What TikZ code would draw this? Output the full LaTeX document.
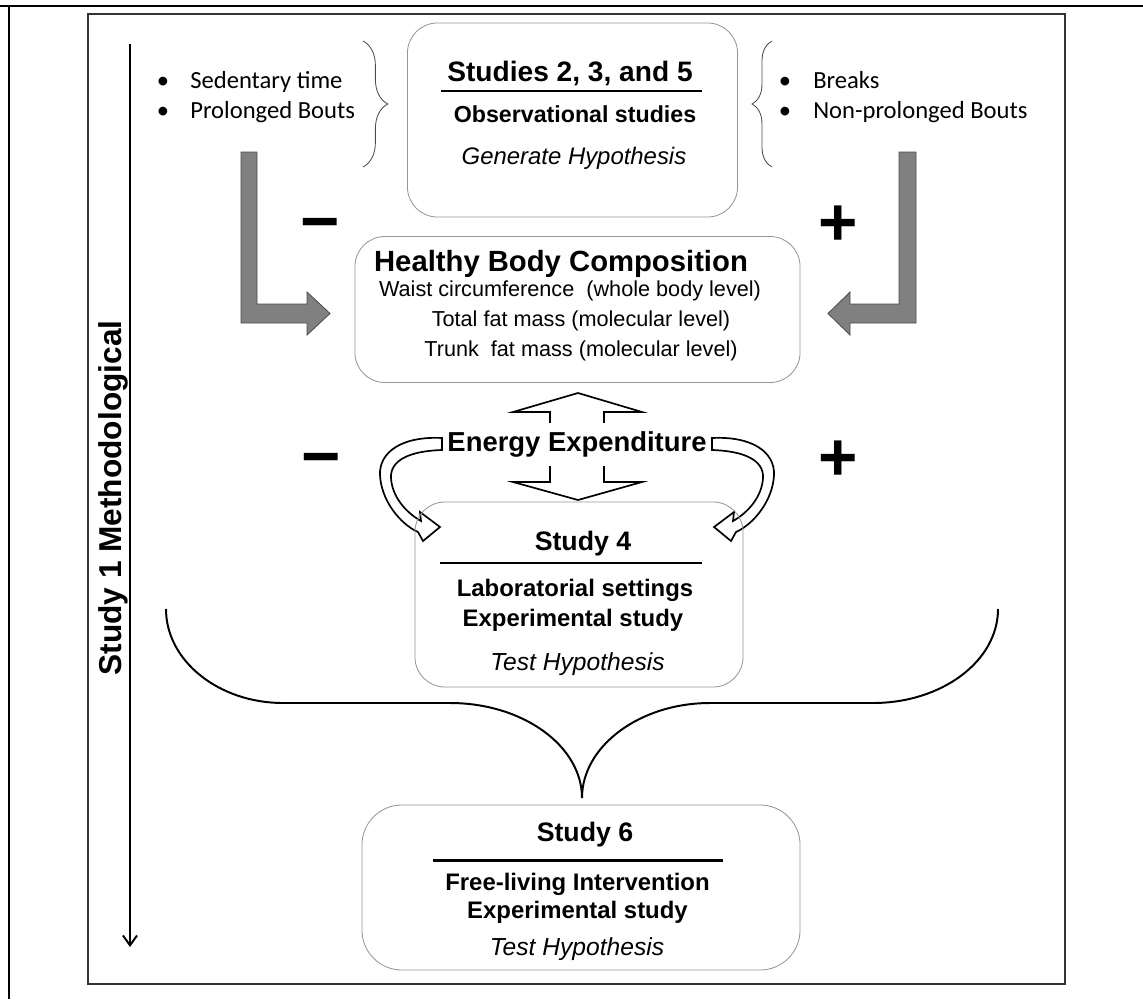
\documentclass[tikz,border=0pt]{standalone}
\usepackage{fontspec}
\setmainfont{Liberation Sans}
\newfontfamily\calibri{Carlito}
\usetikzlibrary{positioning, arrows.meta, decorations.pathreplacing, calc}
\definecolor{BoxGray}{RGB}{150,150,150}
\definecolor{ArrowGray}{RGB}{128,128,128}

\begin{document}
\begin{tikzpicture}[x=0.025cm, y=-0.025cm,
    box/.style={draw=BoxGray, rounded corners=0.75cm, line width=0.6pt, inner sep=0pt},
    txt/.style={anchor=base, inner sep=0pt},
    head/.style={txt, font=\bfseries\fontsize{19}{23}\selectfont},
    sub/.style={txt, font=\bfseries\fontsize{17}{20}\selectfont},
    hyp/.style={txt, font=\itshape\fontsize{17.5}{21}\selectfont},
    level/.style={txt, font=\fontsize{15.4}{18}\selectfont},
    dot/.style={txt, font=\calibri\fontsize{17.5}{21}\selectfont},
    item/.style={anchor=base west, inner sep=0pt, font=\calibri\fontsize{17.5}{21}\selectfont},
    sign/.style={txt, font=\bfseries\fontsize{48}{48}\selectfont},
    rulebar/.style={line width=2pt},
    grayarrow/.style={fill=ArrowGray, draw=black!70, line width=0.6pt},
    hollow/.style={fill=white, draw=black, line width=1.2pt}]

    \useasboundingbox (0,0) rectangle (1143,999);

    % frames
    \draw[line width=1.2pt] (0,6) -- (1143,6);
    \draw[line width=1.4pt] (9,6) -- (9,999);
    \draw[black!80, line width=0.9pt] (88,14) rectangle (1065,984);

    % Study 1 axis
    \coordinate (mtop) at (130,44);
    \coordinate (mbot) at (130,947);
    \draw[-{Straight Barb[length=7pt,width=10pt]}, line width=1.4pt] (mtop) -- (mbot);
    \node[rotate=90, inner sep=0pt, font=\bfseries\fontsize{22.5}{26}\selectfont] (meth) at (113,498) {Study 1 Methodological};

    % Studies 2, 3 and 5
    \node[box, minimum width=8.25cm, minimum height=4.85cm] (obs) at (572.5,120) {};
    \node[head, font=\bfseries\fontsize{20}{24}\selectfont] (obstitle) at (570,81.5) {Studies 2, 3, and 5};
    \draw[rulebar] (441,91) -- (702,91);
    \node[sub, font=\bfseries\fontsize{16.5}{20}\selectfont] (obssub) at (575,122) {Observational studies};
    \node[hyp, font=\itshape\fontsize{17}{20}\selectfont] (obshyp) at (574,164) {Generate Hypothesis};

    % behaviours
    \node[dot] (d1) at (163,89) {•};
    \node[item] (sed) at (190,89) {Sedentary time};
    \node[dot] (d2) at (163,118) {•};
    \node[item] (pro) at (190,118) {Prolonged Bouts};
    \node[dot] (d3) at (785,89) {•};
    \node[item] (brk) at (813,89) {Breaks};
    \node[dot] (d4) at (785,118) {•};
    \node[item] (npro) at (813,118) {Non-prolonged Bouts};
    \draw[black!70, line width=0.6pt, decorate, decoration={brace, amplitude=0.62cm}] (363,41) -- (363,167);
    \draw[black!70, line width=0.6pt, decorate, decoration={brace, amplitude=0.5cm}] (772,167) -- (772,41);

    % Healthy body composition
    \node[box, minimum width=11.125cm, minimum height=3.65cm] (health) at (577.5,309.5) {};
    \node[head, font=\bfseries\fontsize{20.8}{24}\selectfont] (hbc) at (561,271.7) {Healthy Body Composition};
    \node[level] (waist) at (570,296.7) {Waist circumference\ \ (whole body level)};
    \node[level] (tfm) at (581,326.7) {Total fat mass (molecular level)};
    \node[level] (trunk) at (581,356) {Trunk\ \ fat mass (molecular level)};

    \draw[grayarrow] (241,152) -- (257,152) -- (257,304) -- (307,304) -- (307,292) -- (330,313.5)
        -- (307,335) -- (307,323) -- (241,323) -- cycle;
    \draw[grayarrow] (899,152) -- (916,152) -- (916,323) -- (850,323) -- (850,335) -- (828,313.5)
        -- (850,292) -- (850,304) -- (899,304) -- cycle;

    \node[sign] (m1) at (320,244) {−};
    \node[sign] (p1) at (838,245) {+};
    \node[sign] (m2) at (321,479) {−};
    \node[sign] (p2) at (838,480) {+};

    % Energy expenditure
    \draw[hollow] (578,393) -- (642,412) -- (604,412) -- (604,482) -- (642,482) -- (578,500)
        -- (513,482) -- (550,482) -- (550,412) -- (513,412) -- cycle;
    \node[txt, fill=white, inner xsep=1pt, inner ysep=0.22cm, font=\bfseries\fontsize{19.5}{23}\selectfont] (energy) at (577,451.7) {Energy Expenditure};
    \draw[hollow] (442,438) .. controls (402,436) and (379,452) .. (380,475)
        .. controls (381,500) and (400,524) .. (418,532) -- (423,541) -- (440,527) -- (420,512) -- (421,521)
        .. controls (405,512) and (392,496) .. (391,478) .. controls (390,460) and (410,451) .. (442,450) -- cycle;
    \draw[hollow] (712,438) .. controls (752,436) and (775,452) .. (774,475)
        .. controls (773,500) and (754,524) .. (736,532) -- (731,541) -- (714,527) -- (734,512) -- (733,521)
        .. controls (749,512) and (762,496) .. (763,478) .. controls (764,460) and (744,451) .. (712,450) -- cycle;

    % Study 4
    \node[box, minimum width=8.2cm, minimum height=4.625cm] (lab) at (579,594.5) {};
    \node[head] (labtitle) at (583,550) {Study 4};
    \draw[rulebar] (440,563) -- (702,563);
    \node[sub] (labset) at (575,596.7) {Laboratorial settings};
    \node[sub] (labexp) at (573,626) {Experimental study};
    \node[hyp] (labhyp) at (577.5,670) {Test Hypothesis};

    % brace
    \draw[line width=1.4pt] (166,609) .. controls (166,661) and (219,703) .. (283,703) -- (450,703)
        .. controls (523,703) and (582,746) .. (582,798) .. controls (582,746) and (640,703) .. (710,703)
        -- (873,703) .. controls (942,703) and (998,661) .. (998,609);

    % Study 6
    \node[box, rounded corners=1cm, minimum width=10.95cm, minimum height=4.125cm] (free) at (581,887.5) {};
    \node[head] (freetitle) at (585,841.7) {Study 6};
    \draw[rulebar] (433,860.5) -- (723,860.5);
    \node[sub] (freeint) at (577.5,890) {Free-living Intervention};
    \node[sub] (freeexp) at (577.5,918) {Experimental study};
    \node[hyp] (freehyp) at (577,955) {Test Hypothesis};
\end{tikzpicture}
\end{document}
